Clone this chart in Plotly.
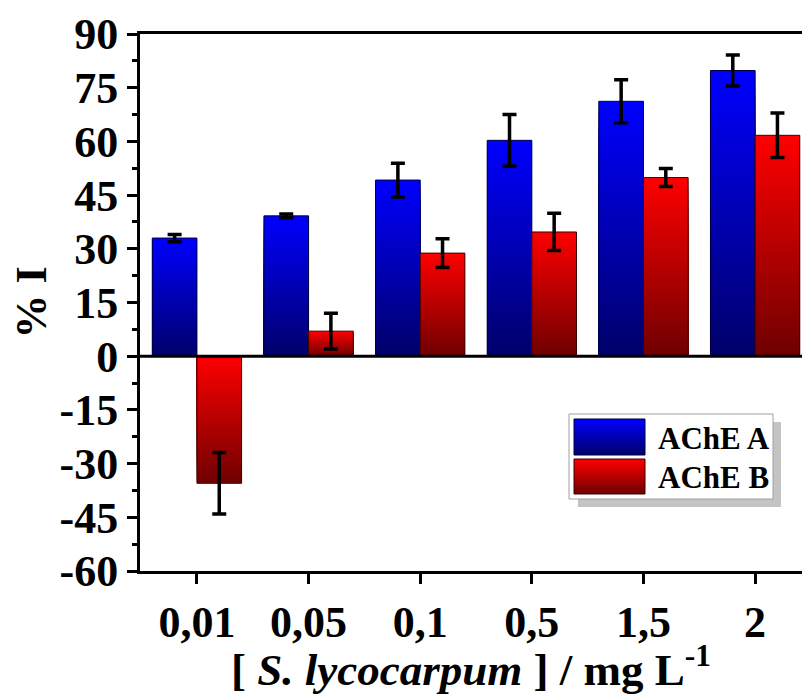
import plotly.graph_objects as go

# ---- data ----
categories = ["0,01", "0,05", "0,1", "0,5", "1,5", "2"]
ache_a = [33.0, 39.2, 49.2, 60.3, 71.2, 79.8]
ache_a_err = [1.0, 0.5, 4.7, 7.2, 6.0, 4.3]
ache_b = [-35.5, 7.0, 28.8, 34.7, 49.9, 61.7]
ache_b_err = [8.6, 5.0, 4.0, 5.2, 2.5, 6.2]
y_ticks = [-60, -45, -30, -15, 0, 15, 30, 45, 60, 75, 90]
series_names = ["AChE A", "AChE B"]

FONT = "Liberation Serif, Times New Roman, serif"
N_SLICES = 48

# style per series: bright (top) colour, dark (bottom) colour, edge colour
styles = {
    "AChE A": dict(bright=(0, 0, 255), dark=(0, 0, 105), edge="#00003c", grp="A"),
    "AChE B": dict(bright=(255, 0, 0), dark=(110, 0, 0), edge="#3c0000", grp="B"),
}


def mix(dark, bright, f):
    f = max(0.0, min(1.0, f))
    return "rgb(%d,%d,%d)" % tuple(round(d + (b - d) * f) for d, b in zip(dark, bright))


fig = go.Figure()

for name, vals, errs in [(series_names[0], ache_a, ache_a_err), (series_names[1], ache_b, ache_b_err)]:
    st = styles[name]
    # vertical gradient: nested bars from the base, each shorter one painted over the previous
    for k in range(N_SLICES, 0, -1):
        colors = []
        for v in vals:
            f = (k - 0.5) / N_SLICES if v >= 0 else 1 - (k - 0.5) / N_SLICES
            colors.append(mix(st["dark"], st["bright"], f))
        fig.add_trace(go.Bar(
            x=categories, y=[v * k / N_SLICES for v in vals],
            offsetgroup=st["grp"], marker=dict(color=colors, line=dict(width=0)),
            showlegend=False, hoverinfo="skip",
        ))
    fig.add_trace(go.Bar(
        x=categories, y=vals, name=name, offsetgroup=st["grp"],
        marker=dict(color="rgba(0,0,0,0)", line=dict(color=st["edge"], width=1)),
        error_y=dict(type="data", array=errs, visible=True, color="black", thickness=3.5, width=7),
        showlegend=False,
    ))

# ---- layout geometry (pixels) ----
W, H = 802, 695
ML, MR, MT, MB = 140, 0, 34, 124
PW, PH = W - ML - MR, H - MT - MB


def px(x):
    return (x - ML) / PW


def py(y):
    return (H - MB - y) / PH


shapes = [
    # zero line above bars
    dict(type="line", xref="paper", yref="y", x0=0, x1=1, y0=0, y1=0,
         line=dict(color="black", width=3), layer="above"),
    # legend shadow and box
    dict(type="rect", xref="paper", yref="paper", x0=px(578), x1=px(781), y0=py(507), y1=py(422),
         fillcolor="#c4c4c4", line=dict(width=0), layer="above"),
    dict(type="rect", xref="paper", yref="paper", x0=px(569), x1=px(773), y0=py(499), y1=py(414),
         fillcolor="white", line=dict(color="#a0a0a0", width=1), layer="above"),
]
annotations = []
swatches = [(419, 455), (459, 494)]
text_y = [438, 477]
M = 24
for i, name in enumerate(series_names):
    st = styles[name]
    top, bot = swatches[i]
    for j in range(M):
        y0 = top + (bot - top) * j / M
        y1 = min(bot, top + (bot - top) * (j + 1) / M + 1.0)
        f = 1 - (j + 0.5) / M
        shapes.append(dict(type="rect", xref="paper", yref="paper", x0=px(574), x1=px(645),
                           y0=py(y1), y1=py(y0), fillcolor=mix(st["dark"], st["bright"], f),
                           line=dict(width=0), layer="above"))
    shapes.append(dict(type="rect", xref="paper", yref="paper", x0=px(574), x1=px(645),
                       y0=py(bot), y1=py(top), line=dict(color=st["edge"], width=1), layer="above"))
    annotations.append(dict(text="<b>%s</b>" % name, xref="paper", yref="paper", x=px(656), y=py(text_y[i]),
                            xanchor="left", yanchor="middle", showarrow=False,
                            font=dict(family=FONT, size=31, color="black")))

fig.update_layout(
    width=W, height=H,
    margin=dict(l=ML, r=MR, t=MT, b=MB, pad=0),
    paper_bgcolor="white", plot_bgcolor="white",
    barmode="group", bargap=0.2, bargroupgap=0,
    showlegend=False,
    shapes=shapes, annotations=annotations,
    font=dict(family=FONT, color="black"),
)
fig.update_xaxes(
    type="category", range=[-0.51, 5.42],
    showline=True, linecolor="black", linewidth=3, mirror=True,
    ticks="outside", ticklen=10, tickwidth=3, tickcolor="black",
    tickfont=dict(family=FONT, size=44, color="black", weight="bold"),
    showgrid=False, zeroline=False,
    title=dict(text="[ <i>S. lycocarpum</i> ] / mg L<sup>-1</sup>",
               font=dict(family=FONT, size=45, color="black", weight="bold"), standoff=12),
)
fig.update_yaxes(
    range=[-60, 90], tickmode="array", tickvals=y_ticks, ticktext=[str(v) for v in y_ticks],
    showline=True, linecolor="black", linewidth=3, mirror=False,
    ticks="outside", ticklen=10, tickwidth=3, tickcolor="black",
    minor=dict(dtick=7.5, tick0=0, ticks="outside", ticklen=5, tickwidth=3, tickcolor="black", showgrid=False),
    tickfont=dict(family=FONT, size=44, color="black", weight="bold"),
    showgrid=False, zeroline=False,
    title=dict(text="% I", font=dict(family=FONT, size=44, color="black", weight="bold"), standoff=0),
)

fig.write_html("out.html")
